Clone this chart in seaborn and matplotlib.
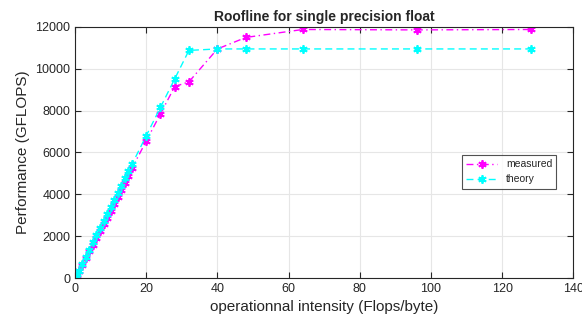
import pandas as pd
import matplotlib
matplotlib.use("Agg")
import matplotlib.pyplot as plt
import seaborn as sns

# Roofline data
intensity = [0.25, 0.5, 1, 2, 3, 4, 5, 6, 7, 8, 9, 10, 11, 12, 13, 14, 15, 16,
             20, 24, 28, 32, 40, 48, 64, 96, 128]
measured = [80, 160, 320, 640, 960, 1280, 1600, 1920, 2240, 2560, 2880, 3200,
            3530, 3860, 4210, 4560, 4900, 5250,
            6550, 7850, 9150, 9380, 10950, 11500, 11880, 11860, 11880]
theory = [85, 170, 340, 680, 1020, 1360, 1700, 2040, 2380, 2720, 3060, 3400,
          3740, 4080, 4420, 4760, 5100, 5440,
          6800, 8160, 9520, 10880, 10950, 10950, 10950, 10950, 10950]

df = pd.DataFrame({"intensity": intensity, "measured": measured, "theory": theory})

sns.set_style("whitegrid")
plt.rcParams['font.family'] = ['Liberation Sans', 'DejaVu Sans']

fig = plt.figure(figsize=(5.82, 3.25), dpi=100)
ax = fig.add_axes([0.129, 0.1446, 0.856, 0.7724])

# asterisk marker like MATLAB's '*'
star = (6, 2, 0)
sns.lineplot(data=df, x="intensity", y="measured", ax=ax, color="#ff00ff",
             linestyle="-.", marker=star, markersize=6, markeredgewidth=1.3,
             markeredgecolor="#ff00ff", linewidth=1, label="measured",
             dashes=False)
sns.lineplot(data=df, x="intensity", y="theory", ax=ax, color="#00ffff",
             linestyle="--", marker=star, markersize=6, markeredgewidth=1.3,
             markeredgecolor="#00ffff", linewidth=1, label="theory",
             dashes=False)
for ln in ax.get_lines()[:2]:
    ln.set_dashes([5, 2.5, 1, 2.5] if ln.get_label() == "measured" else [5, 3])

ax.set_xlim(0, 140)
ax.set_ylim(0, 12000)
ax.set_xticks(range(0, 141, 20))
ax.set_yticks(range(0, 12001, 2000))
ax.grid(True, color="#e6e6e6", linewidth=0.8)
for s in ax.spines.values():
    s.set_color("#262626")
    s.set_linewidth(0.8)
ax.tick_params(direction="in", length=4, width=0.8, colors="#262626",
               labelsize=9, top=True, right=True, bottom=True, left=True,
               labeltop=False, labelright=False)

ax.set_title("Roofline for single precision float", fontsize=10,
             fontweight="bold", pad=4)
ax.set_xlabel("operationnal intensity (Flops/byte)", fontsize=11, color="#262626")
ax.set_ylabel("Performance (GFLOPS)", fontsize=11, color="#262626")

leg = ax.legend(loc="upper right", bbox_to_anchor=(0.966, 0.49), fontsize=7.5,
                frameon=True, fancybox=False, borderaxespad=0, handlelength=3)
leg.get_frame().set_edgecolor("#262626")
leg.get_frame().set_linewidth(0.8)

fig.savefig("out.png", dpi=100)
